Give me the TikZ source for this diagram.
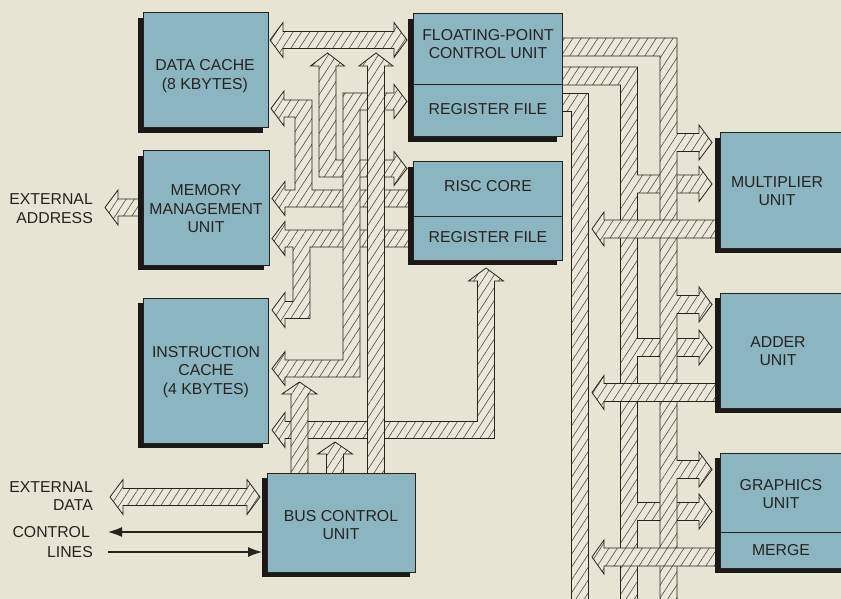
\documentclass[tikz,border=0pt]{standalone}
\usepackage{fontspec}
\setmainfont{Liberation Sans}
\usetikzlibrary{patterns.meta,arrows.meta}
\definecolor{paper}{HTML}{E7E4D4}
\definecolor{busfill}{HTML}{EBE8DA}
\definecolor{boxblue}{HTML}{8BB6C1}
\definecolor{shade}{HTML}{1C1815}
\definecolor{ink}{HTML}{26231F}
\definecolor{hatchc}{HTML}{4A4038}
\tikzset{
  bus/.style={draw=ink, line width=0.8pt, line join=miter, preaction={fill=busfill},
    pattern={Lines[angle=57,distance=7pt,line width=0.55pt]}, pattern color=hatchc},
  blk/.style={draw=ink, line width=1pt, fill=boxblue, inner sep=0pt, outer sep=0pt},
  shd/.style={fill=shade},
  lbl/.style={font=\fontsize{15.8}{18.5}\selectfont, text=ink, align=center, inner sep=0pt},
  ctl/.style={draw=ink, line width=1.1pt, -{Latex[length=14pt,width=10pt]}},
}
\begin{document}
\begin{tikzpicture}[x=1pt,y=-1pt]
\useasboundingbox (0,0) rectangle (841,599);
\fill[paper] (0,0) rectangle (841,599);
\clip (0,0) rectangle (841,599);

% ---------- external address / data buses ----------
\path[bus] (144,199) -- (118,199) -- (118,190) -- (105,207.5) -- (118,225) -- (118,216) -- (144,216) -- cycle;
\path[bus] (110,497) -- (123,479.5) -- (123,488.5) -- (247,488.5) -- (247,479.5) -- (260,497) -- (247,514.5) -- (247,505.5) -- (123,505.5) -- (123,514.5) -- cycle;

% ---------- internal buses (left) ----------
% data bus
\path[bus] (270,40) -- (283,22.5) -- (283,31.5) -- (394,31.5) -- (394,22.5) -- (407,40) -- (394,57.5) -- (394,48.5) -- (283,48.5) -- (283,57.5) -- cycle;
% data cache <-> MMU <-> RISC core
\path[bus] (271,108.5) -- (284,91) -- (284,100) -- (312,100) -- (312,190) -- (414,190) -- (414,207) -- (285,207) -- (285,215.5) -- (272,198.5) -- (285,181.5) -- (285,190) -- (295,190) -- (295,117) -- (284,117) -- (284,126) -- cycle;
% register file <-> MMU, to instruction cache
\path[bus] (272,238.5) -- (285,221.5) -- (285,230) -- (414,230) -- (414,247) -- (310,247) -- (310,318.5) -- (285,318.5) -- (285,327.5) -- (272,310) -- (285,292.5) -- (285,301.5) -- (293,301.5) -- (293,247) -- (285,247) -- (285,255.5) -- cycle;
% data bus <-> RISC core
\path[bus] (327.5,53) -- (344.5,66) -- (336,66) -- (336,160) -- (394,160) -- (394,151.5) -- (407,168.5) -- (394,185.5) -- (394,177) -- (319,177) -- (319,66) -- (310.5,66) -- cycle;
% instruction cache <-> register file (bottom)
\path[bus] (272,430) -- (285,412.5) -- (285,421.5) -- (477.5,421.5) -- (477.5,281) -- (468.5,281) -- (486,268) -- (503.5,281) -- (494.5,281) -- (494.5,438.5) -- (285,438.5) -- (285,447.5) -- cycle;
% small up arrow from bus control
\path[bus] (335,442) -- (352.5,454) -- (343.5,454) -- (343.5,474) -- (326.5,474) -- (326.5,454) -- (317.5,454) -- cycle;
% up arrow from bus control to instruction bus
\path[bus] (299.5,382) -- (317,394) -- (308,394) -- (308,474) -- (291,474) -- (291,394) -- (282,394) -- cycle;
% instruction bus: FPU <-> instruction cache
\path[bus] (407,101.5) -- (394,118.5) -- (394,110) -- (360,110) -- (360,377) -- (285,377) -- (285,385.5) -- (272,368.5) -- (285,351.5) -- (285,360) -- (343,360) -- (343,93) -- (394,93) -- (394,84.5) -- cycle;
% bus control -> data bus
\path[bus] (376,53) -- (393,66) -- (384.5,66) -- (384.5,474) -- (367.5,474) -- (367.5,66) -- (359,66) -- cycle;

% ---------- internal buses (right) ----------
\path[bus] (561,93.5) -- (588.5,93.5) -- (588.5,610) -- (571.5,610) -- (571.5,111.5) -- (561,111.5) -- cycle;
\path[bus] (561,67) -- (637.5,67) -- (637.5,175) -- (699,175) -- (699,166.5) -- (712,184) -- (699,201.5) -- (699,193) -- (637.5,193) -- (637.5,338.5) -- (699,338.5) -- (699,330) -- (712,347.5) -- (699,365) -- (699,356.5) -- (637.5,356.5) -- (637.5,502.5) -- (699,502.5) -- (699,494) -- (712,511.5) -- (699,529) -- (699,520.5) -- (637.5,520.5) -- (637.5,610) -- (620.5,610) -- (620.5,85) -- (561,85) -- cycle;
\path[bus] (561,38) -- (677,38) -- (677,133.5) -- (699,133.5) -- (699,125) -- (712,142.5) -- (699,160) -- (699,151.5) -- (677,151.5) -- (677,295.5) -- (699,295.5) -- (699,287) -- (712,304.5) -- (699,322) -- (699,313.5) -- (677,313.5) -- (677,460.5) -- (699,460.5) -- (699,452) -- (712,469.5) -- (699,487) -- (699,478.5) -- (677,478.5) -- (677,610) -- (660,610) -- (660,56) -- (561,56) -- cycle;
% outputs of multiplier, adder, merge
\path[bus] (721,220) -- (604,220) -- (604,212) -- (592,229) -- (604,246) -- (604,238) -- (721,238) -- cycle;
\path[bus] (721,383.5) -- (604,383.5) -- (604,375.5) -- (592,392.5) -- (604,409.5) -- (604,401.5) -- (721,401.5) -- cycle;
\path[bus] (721,548) -- (604,548) -- (604,540) -- (592,557) -- (604,574) -- (604,566) -- (721,566) -- cycle;

% ---------- blocks ----------
\fill[shd] (138,18) rectangle (263,133);
\node[blk, minimum width=125pt, minimum height=115pt] (dc) at (205.5,70.5) {};
\fill[shd] (138,156) rectangle (264,270);
\node[blk, minimum width=126pt, minimum height=114pt] (mmu) at (206,208) {};
\fill[shd] (138,303) rectangle (263,448);
\node[blk, minimum width=125pt, minimum height=145pt] (ic) at (205.5,370.5) {};
\fill[shd] (262,478) rectangle (410,577);
\node[blk, minimum width=148pt, minimum height=99pt] (bcu) at (341,522.5) {};
\fill[shd] (408,19) rectangle (557,142);
\node[blk, minimum width=149pt, minimum height=71pt] (fpu) at (487.5,49.5) {};
\node[blk, minimum width=149pt, minimum height=52pt] (fpr) at (487.5,111) {};
\fill[shd] (408,167) rectangle (557,265);
\node[blk, minimum width=149pt, minimum height=54pt] (risc) at (487.5,189) {};
\node[blk, minimum width=149pt, minimum height=44pt] (rr) at (487.5,238) {};
\fill[shd] (715,138) rectangle (845,253);
\node[blk, minimum width=130pt, minimum height=115pt] (mul) at (785,190.5) {};
\fill[shd] (715,298) rectangle (845,413);
\node[blk, minimum width=130pt, minimum height=115pt] (add) at (785,350.5) {};
\fill[shd] (715,458) rectangle (845,573);
\node[blk, minimum width=130pt, minimum height=79pt] (gfx) at (785,492.5) {};
\node[blk, minimum width=130pt, minimum height=36pt] (mrg) at (785,550) {};

% ---------- texts ----------
\node[lbl] (tdc) at (205,76) {DATA CACHE\\(8 KBYTES)};
\node[lbl] (tmmu) at (206,209) {MEMORY\\MANAGEMENT\\UNIT};
\node[lbl] (tic) at (206,372) {INSTRUCTION\\CACHE\\(4 KBYTES)};
\node[lbl] (tbcu) at (341,525) {BUS CONTROL\\UNIT};
\node[lbl] (tfpu) at (488,44) {FLOATING-POINT\\CONTROL UNIT};
\node[lbl] (tfpr) at (488,109) {REGISTER FILE};
\node[lbl] (trisc) at (488,186) {RISC CORE};
\node[lbl] (trr) at (488,237) {REGISTER FILE};
\node[lbl] (tmul) at (777,191) {MULTIPLIER\\UNIT};
\node[lbl] (tadd) at (778,351) {ADDER\\UNIT};
\node[lbl] (tgfx) at (781,494) {GRAPHICS\\UNIT};
\node[lbl] (tmrg) at (781,550) {MERGE};
\node[lbl, anchor=east, align=right] (tea) at (93,208.5) {EXTERNAL\\ADDRESS};
\node[lbl, anchor=east, align=right] (ted) at (93,496) {EXTERNAL\\DATA};
\node[lbl, anchor=east, align=right] (tcl1) at (90,532) {CONTROL};
\node[lbl, anchor=east, align=right] (tcl2) at (93,552) {LINES};

% ---------- control lines ----------
\coordinate (c1a) at (263,532);
\coordinate (c1b) at (108,532);
\coordinate (c2a) at (108,552);
\coordinate (c2b) at (262,552);
\draw[ctl] (c1a) -- (c1b);
\draw[ctl] (c2a) -- (c2b);
\end{tikzpicture}
\end{document}
